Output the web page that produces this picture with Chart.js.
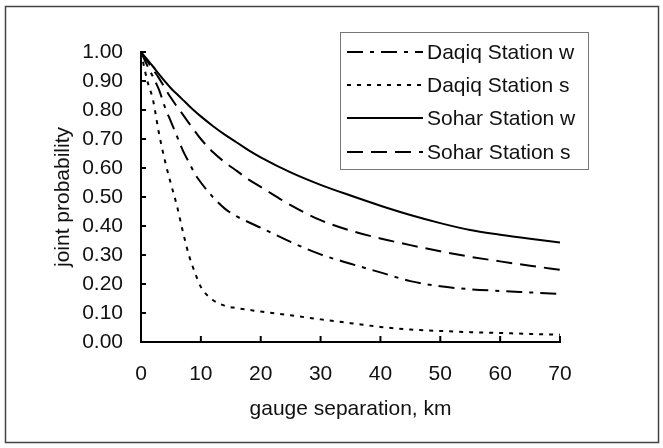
<!DOCTYPE html>
<html>
<head>
<meta charset="utf-8">
<script src="https://cdn.jsdelivr.net/npm/chart.js@4/dist/chart.umd.min.js"></script>
<style>
  html, body { margin: 0; padding: 0; background: #fff; }
  canvas { display: block; }
</style>
</head>
<body>
<canvas id="probChart" width="663" height="448"></canvas>
<script>
// gauge separation (km) at which the curves were read
const distances = [0, 1, 2, 3, 4, 5, 6, 7, 8, 9, 10, 12, 14, 16, 18, 20, 25, 30, 35, 40, 45, 50, 55, 60, 65, 70];

const daqiqW = [1.00, 0.955, 0.915, 0.87, 0.81, 0.76, 0.71, 0.66, 0.62, 0.58, 0.55, 0.50, 0.46, 0.433, 0.413, 0.394, 0.345, 0.302, 0.27, 0.24, 0.21, 0.192, 0.182, 0.176, 0.171, 0.166];
const daqiqS = [1.00, 0.905, 0.835, 0.72, 0.625, 0.545, 0.47, 0.38, 0.30, 0.24, 0.19, 0.145, 0.125, 0.117, 0.111, 0.105, 0.092, 0.078, 0.065, 0.052, 0.043, 0.038, 0.034, 0.031, 0.028, 0.025];
const soharW = [1.00, 0.975, 0.95, 0.924, 0.899, 0.875, 0.855, 0.835, 0.815, 0.796, 0.778, 0.745, 0.715, 0.688, 0.661, 0.637, 0.585, 0.542, 0.505, 0.47, 0.438, 0.41, 0.386, 0.37, 0.356, 0.343];
const soharS = [1.00, 0.97, 0.94, 0.91, 0.875, 0.842, 0.812, 0.784, 0.755, 0.727, 0.70, 0.655, 0.62, 0.59, 0.56, 0.535, 0.472, 0.42, 0.384, 0.357, 0.334, 0.313, 0.294, 0.278, 0.263, 0.249];

const seriesLabels = ['Daqiq Station w', 'Daqiq Station s', 'Sohar Station w', 'Sohar Station s'];
const xTicks = [0, 10, 20, 30, 40, 50, 60, 70];
const yTicks = [0, 0.1, 0.2, 0.3, 0.4, 0.5, 0.6, 0.7, 0.8, 0.9, 1.0];

const FONT = "'Liberation Sans', Arial, sans-serif";

function toPoints(values) {
    return values.map((v, i) => ({ x: distances[i], y: v }));
}

function lineSet(label, values, dash) {
    return {
        label: label,
        data: toPoints(values),
        borderColor: '#000',
        borderWidth: 2,
        borderDash: dash,
        pointRadius: 0,
        fill: false,
        cubicInterpolationMode: 'monotone'
    };
}

// frame, inward tick marks and the boxed legend
const decorations = {
    id: 'decorations',
    beforeDraw(chart) {
        const ctx = chart.ctx;
        ctx.save();
        ctx.fillStyle = '#fff';
        ctx.fillRect(0, 0, chart.width, chart.height);
        ctx.strokeStyle = '#444';
        ctx.lineWidth = 1.5;
        ctx.strokeRect(5.5, 6.5, 653, 436);
        ctx.restore();
    },
    afterDraw(chart) {
        const ctx = chart.ctx;
        const xs = chart.scales.x, ys = chart.scales.y;
        const area = chart.chartArea;
        ctx.save();
        ctx.strokeStyle = '#000';
        ctx.lineWidth = 2;
        ctx.setLineDash([]);
        xTicks.forEach(t => {
            const px = xs.getPixelForValue(t);
            ctx.beginPath();
            ctx.moveTo(px, area.bottom);
            ctx.lineTo(px, area.bottom - 6);
            ctx.stroke();
        });
        yTicks.forEach(t => {
            const py = ys.getPixelForValue(t);
            ctx.beginPath();
            ctx.moveTo(area.left, py);
            ctx.lineTo(area.left + 5, py);
            ctx.stroke();
        });

        // legend box
        ctx.fillStyle = '#fff';
        ctx.fillRect(340, 32, 248, 137);
        ctx.strokeStyle = '#777';
        ctx.lineWidth = 1;
        ctx.strokeRect(340.5, 32.5, 248, 137);
        const rows = [52, 85, 118, 152];
        ctx.font = '21px ' + FONT;
        ctx.textBaseline = 'middle';
        ctx.textAlign = 'left';
        chart.data.datasets.forEach((ds, i) => {
            ctx.strokeStyle = '#000';
            ctx.lineWidth = 2;
            ctx.setLineDash(ds.borderDash || []);
            ctx.beginPath();
            ctx.moveTo(347, rows[i]);
            ctx.lineTo(423, rows[i]);
            ctx.stroke();
            ctx.fillStyle = '#111';
            ctx.fillText(ds.label, 427, rows[i] + 1);
        });
        ctx.restore();
    }
};

const ctx = document.getElementById('probChart').getContext('2d');
new Chart(ctx, {
    type: 'line',
    data: {
        datasets: [
            lineSet(seriesLabels[0], daqiqW, [16, 7, 4, 7]),
            lineSet(seriesLabels[1], daqiqS, [4, 6]),
            lineSet(seriesLabels[2], soharW, []),
            lineSet(seriesLabels[3], soharS, [16, 8])
        ]
    },
    options: {
        responsive: false,
        animation: false,
        devicePixelRatio: 1,
        layout: { padding: { top: 52, right: 103, left: 0, bottom: 0 } },
        plugins: {
            legend: { display: false },
            tooltip: { enabled: false }
        },
        scales: {
            x: {
                type: 'linear',
                min: 0,
                max: 70,
                afterFit: s => { s.height = 106; },
                afterBuildTicks: s => { s.ticks = xTicks.map(v => ({ value: v })); },
                grid: { display: true, drawOnChartArea: false, drawTicks: false },
                border: { display: true, color: '#000', width: 2 },
                ticks: {
                    padding: 20,
                    color: '#111',
                    font: { family: FONT, size: 21 },
                    maxRotation: 0
                },
                title: {
                    display: true,
                    text: 'gauge separation, km',
                    color: '#111',
                    font: { family: FONT, size: 21 },
                    padding: { top: 0, bottom: 26 }
                }
            },
            y: {
                type: 'linear',
                min: 0,
                max: 1,
                afterFit: s => { s.width = 141; },
                afterBuildTicks: s => { s.ticks = yTicks.map(v => ({ value: v })); },
                grid: { display: true, drawOnChartArea: false, drawTicks: false },
                border: { display: true, color: '#000', width: 2 },
                ticks: {
                    padding: 18,
                    color: '#111',
                    font: { family: FONT, size: 21 },
                    callback: v => v.toFixed(2)
                },
                title: {
                    display: true,
                    text: 'joint probability',
                    color: '#111',
                    font: { family: FONT, size: 21 },
                    padding: { top: 51, bottom: 0 }
                }
            }
        }
    },
    plugins: [decorations]
});
</script>
</body>
</html>
